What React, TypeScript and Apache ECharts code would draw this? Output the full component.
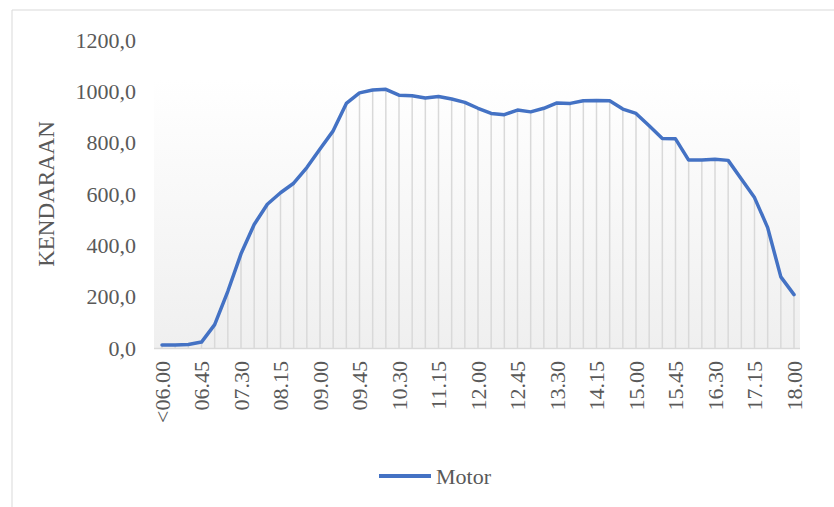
import React, { useEffect, useRef } from "react";
import * as echarts from "echarts";

const categories: string[] = [
  "<06.00", "06.15", "06.30", "06.45", "07.00", "07.15", "07.30", "07.45",
  "08.00", "08.15", "08.30", "08.45", "09.00", "09.15", "09.30", "09.45",
  "10.00", "10.15", "10.30", "10.45", "11.00", "11.15", "11.30", "11.45",
  "12.00", "12.15", "12.30", "12.45", "13.00", "13.15", "13.30", "13.45",
  "14.00", "14.15", "14.30", "14.45", "15.00", "15.15", "15.30", "15.45",
  "16.00", "16.15", "16.30", "16.45", "17.00", "17.15", "17.30", "17.45",
  "18.00",
];

const motor: number[] = [
  12, 12, 14, 23, 91, 221, 367, 481,
  560, 605, 642, 703, 775, 846, 953, 994,
  1005, 1008, 985, 983, 974, 980, 970, 957,
  934, 914, 909, 927, 920, 934, 955, 953,
  963, 964, 963, 931, 914, 866, 816, 815,
  732, 732, 735, 731, 658, 586, 469, 277,
  208,
];

const yTicks = { min: 0, max: 1200, interval: 200 };

const FONT = "Liberation Serif";
const TEXT = "#595959";

export default function App() {
  const ref = useRef<HTMLDivElement>(null);

  useEffect(() => {
    if (!ref.current) return;
    const chart = echarts.init(ref.current, undefined, { renderer: "svg" });
    chart.setOption({
      animation: false,
      backgroundColor: "#ffffff",
      textStyle: { fontFamily: FONT, color: TEXT },
      grid: { left: 162, right: 40, top: 40, bottom: 159 },
      graphic: [
        {
          type: "rect",
          z: -10,
          silent: true,
          shape: { x: 12, y: 10, width: 900, height: 600 },
          style: { fill: "#ffffff", stroke: "#d9d9d9", lineWidth: 1 },
        },
        {
          type: "rect",
          z: -5,
          silent: true,
          shape: { x: 154, y: 80, width: 646, height: 268 },
          style: {
            fill: new echarts.graphic.LinearGradient(0, 0, 0, 1, [
              { offset: 0, color: "#ffffff" },
              { offset: 1, color: "#efefef" },
            ]),
          },
        },
        {
          type: "line",
          z: 1,
          silent: true,
          shape: { x1: 154, y1: 348.5, x2: 800, y2: 348.5 },
          style: { stroke: "#d9d9d9", lineWidth: 1.5 },
        },
      ],
      legend: {
        data: [
          {
            name: "Motor",
            icon: "rect",
            itemStyle: { color: "#4472C4" },
            textStyle: { fontFamily: FONT, fontSize: 22, color: TEXT },
          },
        ],
        bottom: 15,
        left: 374,
        itemWidth: 52,
        itemHeight: 4,
        itemGap: 4,
        textStyle: { fontFamily: FONT, fontSize: 22, color: TEXT },
      },
      xAxis: {
        type: "category",
        data: categories,
        boundaryGap: false,
        axisLine: { show: false },
        axisTick: { show: false },
        axisLabel: {
          interval: 2,
          rotate: 90,
          margin: 13,
          fontFamily: FONT,
          fontSize: 22,
          color: TEXT,
        },
        splitLine: { show: false },
      },
      yAxis: {
        type: "value",
        min: yTicks.min,
        max: yTicks.max,
        interval: yTicks.interval,
        name: "KENDARAAN",
        nameLocation: "middle",
        nameRotate: 90,
        nameGap: 104,
        nameTextStyle: { fontFamily: FONT, fontSize: 23, color: TEXT },
        axisLine: { show: false },
        axisTick: { show: false },
        splitLine: { show: false },
        axisLabel: {
          margin: 26,
          fontFamily: FONT,
          fontSize: 22,
          color: TEXT,
          formatter: (v: number) => v.toFixed(1).replace(".", ","),
        },
      },
      series: [
        {
          name: "drop",
          type: "bar",
          data: motor,
          barWidth: 1.5,
          silent: true,
          itemStyle: { color: "#d9d9d9" },
          z: 2,
        },
        {
          name: "Motor",
          type: "line",
          data: motor,
          symbol: "none",
          lineStyle: { color: "#4472C4", width: 3.5, cap: "round", join: "round" },
          itemStyle: { color: "#4472C4" },
          z: 5,
        },
      ],
    });
    return () => chart.dispose();
  }, []);

  return (
    <div
      ref={ref}
      style={{ position: "absolute", left: 0, top: 0, width: 834, height: 507 }}
    />
  );
}
